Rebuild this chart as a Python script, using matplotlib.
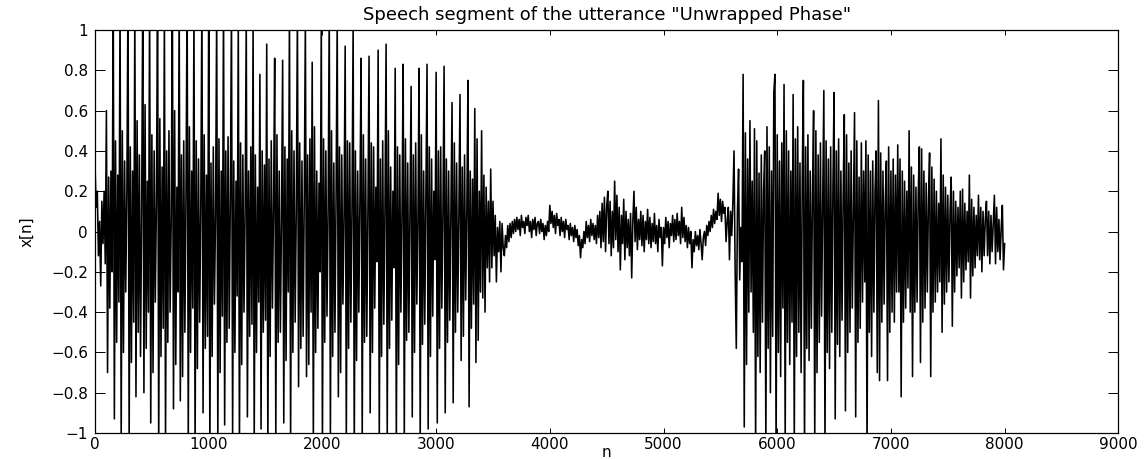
import numpy as np
import matplotlib.pyplot as plt

# speech waveform, one value every STEP samples
STEP = 10

# voiced part 1 (n = 0 .. 3590), one row per pitch period after the onset
voiced_a = [
    0.32, 0.12, 0.2, -0.12, 0.05, -0.27, 0.15, -0.06, 0.2, -0.16, 0.6, -0.7, 0.27, -0.38, 0.3, -0.2,
    1.2, -0.93, 0.45, -0.55, 0.28, -0.35,
    1.15, -1.05, 0.5, -0.6, 0.35, -0.3, 0.2,
    1.2, -1.05, 0.42, -0.65, 0.3, -0.45,
    1.1, -0.82, 0.55, -0.5, 0.38, -0.62, 0.1,
    1.2, -0.8, 0.63, -0.58, 0.25, -0.4,
    1.15, -0.95, 0.48, -0.7, 0.4, -0.35, 0.15,
    1.2, -1.1, 0.56, -0.62, 0.32, -0.48,
    1.1, -1.05, 0.4, -0.55, 0.5, -0.4, 0.05,
    1.2, -0.88, 0.6, -0.66, 0.22, -0.3,
    1.15, -0.84, 0.38, -0.72, 0.45, -0.5, 0.18,
    1.2, -1.05, 0.52, -0.6, 0.3, -0.38,
    1.1, -1.08, 0.45, -0.68, 0.36, -0.45, 0.12,
    1.15, -0.9, 0.48, -0.58, 0.28, -0.52,
    1.2, -1.1, 0.34, -0.62, 0.42, -0.36, 0.08,
    1.1, -1.05, 0.46, -0.7, 0.3, -0.42,
    1.15, -0.96, 0.4, -0.55, 0.47, -0.48, 0.16,
    1.1, -1.02, 0.35, -0.6, 0.25, -0.32,
    1.05, -1.1, 0.44, -0.66, 0.38, -0.4, 0.1,
    1.05, -0.92, 0.3, -0.52, 0.42, -0.46,
    1.02, -1.05, 0.38, -0.6, 0.22, -0.35,
    0.78, -0.98, 0.4, -0.5, 0.33, -0.44,
    0.93, -1.08, 0.36, -0.62, 0.45, -0.38, 0.12,
    0.86, -1.02, 0.48, -0.55, 0.3, -0.5, 0.06,
    0.85, -0.95, 0.42, -0.64, 0.36, -0.3,
    1.1, -1.05, 0.5, -0.6, 0.4, -0.45, 0.1,
    1.1, -0.77, 0.44, -0.58, 0.35, -0.52, 0.15,
    1.05, -0.72, 0.38, -0.66, 0.46, -0.4,
    0.84, -1.05, 0.52, -0.6, 0.3, -0.48, 0.24, -0.2,
    1.05, -1.08, 0.46, -0.55, 0.4, -0.42, 0.1,
    1.1, -1.02, 0.5, -0.62, 0.34, -0.5, 0.18,
    1.05, -0.82, 0.42, -0.7, 0.38, -0.36, 0.08,
    0.92, -1.05, 0.45, -0.58, 0.44, -0.45, 0.12,
    1.02, -1.1, 0.4, -0.64, 0.3, -0.4, 0.16,
    0.86, -1.04, 0.48, -0.55, 0.36, -0.52, 0.1,
    0.87, -0.9, 0.44, -0.6, 0.42, -0.38, 0.22, -0.15,
    0.9, -1.05, 0.36, -0.62, 0.45, -0.46, 0.12,
    0.93, -1.02, 0.5, -0.58, 0.32, -0.44, 0.2, -0.18,
    0.81, -1.06, 0.42, -0.66, 0.38, -0.4, 0.1,
    0.83, -1.03, 0.46, -0.54, 0.34, -0.5, 0.14,
    0.72, -0.92, 0.38, -0.6, 0.44, -0.36, 0.06,
    0.81, -1.05, 0.48, -0.56, 0.3, -0.46, 0.16,
    0.83, -0.98, 0.42, -0.62, 0.36, -0.42, 0.2, -0.14,
    0.79, -0.95, 0.4, -0.58, 0.42, -0.38, 0.1,
    0.82, -0.9, 0.36, -0.55, 0.3, -0.44, 0.12,
    0.64, -0.85, 0.44, -0.5, 0.34, -0.4, 0.08,
    0.68, -0.64, 0.32, -0.52, 0.38, -0.34, 0.1,
    0.75, -0.87, 0.3, -0.48, 0.26, -0.36,
    0.61, -0.65, 0.46, -0.54, 0.2, -0.3,
    0.5, -0.33, 0.28, -0.4, 0.22, -0.18, 0.15, -0.25,
    0.31, -0.18, 0.15, -0.12, 0.08, -0.25, 0.02, -0.1, 0.05, -0.2, 0.04, -0.08,
]

# unvoiced / low level part (n = 3600 .. 5550)
unvoiced = [
    -0.12, -0.02, -0.08, 0.03, -0.05, 0.04, -0.03, 0.05, -0.01, 0.06,
    0.0, 0.07, 0.01, 0.06, -0.02, 0.08, 0.02, 0.05, -0.01, 0.07,
    0.03, 0.08, 0.0, 0.05, -0.03, 0.06, 0.01, 0.07, -0.02, 0.04,
    0.05, -0.01, 0.06, 0.0, 0.04, -0.04, 0.03, -0.02, 0.05, 0.0,
    0.13, 0.04, 0.1, 0.02, 0.08, -0.01, 0.09, 0.03, 0.06, -0.02,
    0.07, 0.0, 0.05, -0.03, 0.06, 0.01, 0.03, -0.04, 0.04, -0.02,
    0.02, -0.05, 0.03, -0.03, 0.01, -0.07, -0.02, -0.13, -0.04, -0.08,
    0.0, -0.06, 0.05, -0.03, 0.03, -0.05, 0.06, -0.02, 0.04, -0.04,
    0.03, -0.06, 0.08, -0.03, 0.1, -0.08, 0.14, -0.05, 0.17, -0.1,
    0.12, 0.2, -0.06, 0.15, -0.12, 0.1, -0.08, 0.25, -0.04, 0.18,
    -0.1, 0.12, -0.19, 0.08, -0.06, 0.16, -0.14, 0.1, -0.08, 0.06,
    -0.12, 0.09, -0.23, 0.05, 0.2, -0.05, 0.12, -0.09, 0.06, -0.04,
    0.1, -0.07, 0.08, -0.1, 0.05, -0.04, 0.11, -0.06, 0.07, -0.08,
    0.04, -0.05, 0.09, -0.06, 0.03, -0.1, 0.06, -0.03, 0.02, -0.17,
    0.02, -0.06, 0.07, -0.03, 0.05, -0.08, 0.04, -0.02, 0.08, -0.05,
    0.06, -0.04, 0.09, -0.02, 0.05, -0.06, 0.12, -0.03, 0.07, -0.05,
    0.03, -0.08, 0.02, -0.06, 0.0, -0.18, -0.04, -0.1, 0.0, -0.07,
    -0.02, -0.09, 0.01, -0.06, -0.14, -0.03, 0.0, -0.07, 0.03, -0.02,
    0.05, 0.0, 0.08, 0.02, 0.11, 0.04, 0.1, 0.06, 0.19, 0.08,
    0.16, 0.05, 0.15, 0.09, 0.12, -0.05,
]

# voiced part 2 (n = 5560 .. 8000)
voiced_b = [
    0.05, 0.12, -0.14, 0.1, -0.02, 0.15, 0.4, -0.2, -0.58, 0.1, 0.31, -0.24, 0.02, -0.15,
    0.78, -0.97, 0.49, -0.66, 0.36, -0.4, 0.55, -0.3, 0.25, -0.5,
    0.51, -1.08, 0.45, -0.62, 0.29, -0.7, 0.38, -0.45, 0.2,
    0.4, -1.06, 0.52, -0.58, 0.42, -0.8, 0.3, -0.52, 0.69,
    0.78, -1.1, 0.48, -0.6, 0.35, -0.72, 0.44, -0.38,
    0.73, -1.05, 0.5, -0.55, 0.4, -0.66, 0.3, -0.45,
    0.68, -1.08, 0.46, -0.62, 0.52, -0.5, 0.34, -0.7, 0.25,
    0.75, -1.1, 0.42, -0.58, 0.48, -0.64, 0.3, -0.48, 0.2,
    0.6, -1.05, 0.5, -0.7, 0.38, -0.55, 0.44, -0.42, 0.15,
    0.7, -1.08, 0.45, -0.6, 0.36, -0.68, 0.42, -0.5, 0.22,
    0.69, -0.93, 0.4, -0.56, 0.46, -0.62, 0.3, -0.44, 0.18,
    0.58, -0.89, 0.48, -0.6, 0.34, -0.5, 0.4, -0.38, 0.12,
    0.59, -0.92, 0.45, -0.55, 0.27, -0.48, 0.44, -0.35, 0.3, -0.25,
    0.45, -1.1, 0.38, -0.5, 0.3, -0.62, 0.35, -0.4, 0.2,
    0.4, -0.7, 0.65, -0.74, 0.39, -0.45, 0.3, -0.36, 0.15,
    0.35, -0.74, 0.42, -0.5, 0.3, -0.4, 0.36, -0.45, 0.28, -0.3,
    0.43, -0.3, 0.36, -0.82, 0.3, -0.45, 0.25, -0.38, 0.2, -0.28,
    0.5, -0.4, 0.32, -0.72, 0.28, -0.4, 0.22, -0.35, 0.18,
    0.42, -0.65, 0.41, -0.45, 0.3, -0.38, 0.24, -0.3, 0.15,
    0.39, -0.72, 0.32, -0.4, 0.26, -0.35, 0.2, -0.3, 0.14, -0.25,
    0.46, -0.5, 0.28, -0.36, 0.22, -0.3, 0.18, -0.25, 0.1,
    0.27, -0.47, 0.2, -0.3, 0.15, -0.22, 0.12, -0.18,
    0.2, -0.33, 0.21, -0.25, 0.14, -0.19, 0.1, -0.15,
    0.28, -0.33, 0.16, -0.22, 0.12, -0.18, 0.08, -0.12,
    0.18, -0.14, 0.12, -0.2, 0.1, -0.12, 0.06,
    0.15, -0.12, 0.1, -0.16, 0.08, -0.1, 0.04,
    0.18, -0.16, 0.12, -0.1, 0.06, -0.14, 0.02,
    0.13, -0.19, -0.06,
]

x_ticks = [0, 1000, 2000, 3000, 4000, 5000, 6000, 7000, 8000, 9000]
y_ticks = [-1, -0.8, -0.6, -0.4, -0.2, 0, 0.2, 0.4, 0.6, 0.8, 1]
y_labels = ['\u22121', '\u22120.8', '\u22120.6', '\u22120.4', '\u22120.2', '0',
            '0.2', '0.4', '0.6', '0.8', '1']

TITLE = 'Speech segment of the utterance "Unwrapped Phase"'

x = np.array(voiced_a + unvoiced + voiced_b)
n = np.arange(len(x)) * STEP

plt.rcParams['font.family'] = ['DejaVu Sans']

fig = plt.figure(figsize=(11.45, 4.59), dpi=100)
ax = fig.add_axes([0.083, 0.0566, 0.8937, 0.8780])

ax.plot(n, x, color='black', linewidth=1.15)

ax.set_xlim(0, 9000)
ax.set_ylim(-1, 1)
ax.set_xticks(x_ticks)
ax.set_xticklabels([str(t) for t in x_ticks])
ax.set_yticks(y_ticks)
ax.set_yticklabels(y_labels)

ax.tick_params(axis='x', direction='in', top=True, length=3.6, width=0.7,
               labelsize=11, pad=3)
ax.tick_params(axis='y', direction='in', right=True, length=7.2, width=0.7,
               labelsize=11, pad=5)
for s in ax.spines.values():
    s.set_linewidth(0.9)

ax.set_title(TITLE, fontsize=13, pad=7)
ax.set_xlabel('n', fontsize=11, labelpad=-5)
ax.set_ylabel('x[n]', fontsize=11, labelpad=12)

fig.savefig('out.png', dpi=100)
